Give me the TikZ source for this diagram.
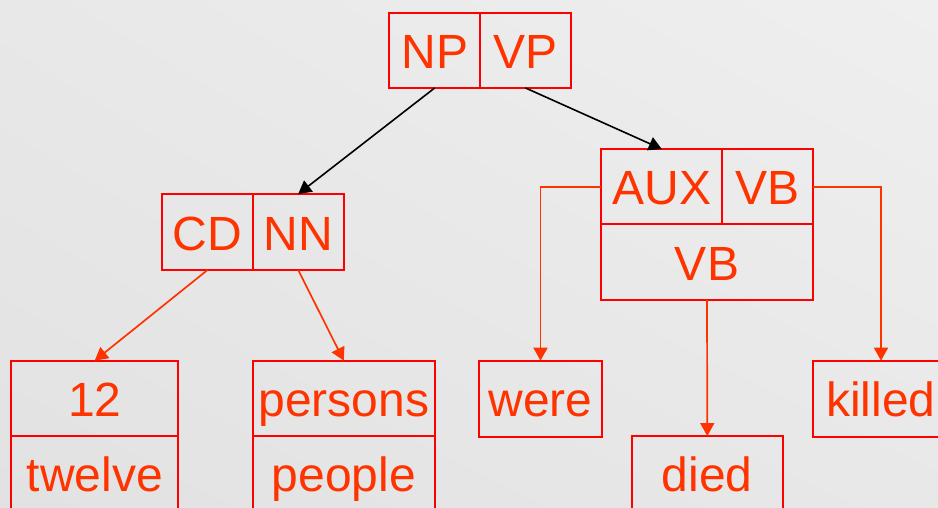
\documentclass[tikz,border=0pt]{standalone}
\usepackage{fontspec}
\setmainfont{Liberation Sans}
\usetikzlibrary{arrows.meta,shadings}
\definecolor{boxred}{HTML}{FF0000}
\definecolor{txtred}{HTML}{FF3300}
\definecolor{bgA}{HTML}{E2E2E2}
\definecolor{bgB}{HTML}{EFEFEF}
\definecolor{bgC}{HTML}{E8E8E8}
\tikzset{
  cell/.style={draw=boxred, line width=2pt, text=txtred, inner sep=0pt,
    font=\fontsize{48}{48}\selectfont, anchor=center, outer sep=0pt,
    text height=36.4pt, text depth=0pt},
  blackarrow/.style={draw=black, line width=1.6pt, -{Triangle[length=13pt,width=14pt]}},
  redarrow/.style={draw=txtred, line width=1.7pt, -{Triangle[length=13pt,width=14pt]}},
}
\begin{document}
\begin{tikzpicture}[x=1pt,y=-1pt]
\useasboundingbox (0,0) rectangle (938,507);
\clip (0,0) rectangle (938,507);
\shade[lower left=bgA, lower right=bgC, upper left=bgC, upper right=bgB] (0,507) rectangle (938,0);
% top
\node[cell, minimum width=90.7pt, minimum height=75.3pt] (np) at (434.7,50.3) {NP};
\node[cell, minimum width=91pt, minimum height=75.3pt] (vp) at (525.5,50.3) {VP};
% left middle
\node[cell, minimum width=90.4pt, minimum height=76pt] (cd) at (207.5,232) {CD};
\node[cell, minimum width=91pt, minimum height=76pt] (nn) at (298.2,232) {NN};
% right middle
\node[cell, minimum width=121pt, minimum height=75.3pt] (aux) at (661.8,186.7) {AUX};
\node[cell, minimum width=90.4pt, minimum height=75.3pt] (vbt) at (767.5,186.7) {VB};
\node[cell, minimum width=211.4pt, minimum height=75.4pt] (vb) at (707,262) {VB};
% bottom
\node[cell, minimum width=166.7pt, minimum height=75.3pt] (n12) at (94.7,398.3) {12};
\node[cell, minimum width=166.7pt, minimum height=75.3pt] (twelve) at (94.7,473.7) {twelve};
\node[cell, minimum width=182.3pt, minimum height=75.3pt] (persons) at (343.8,398.3) {persons};
\node[cell, minimum width=182.3pt, minimum height=75.3pt] (people) at (343.8,473.7) {people};
\node[cell, minimum width=122.4pt, minimum height=76pt] (were) at (540.5,398.7) {were};
\node[cell, minimum width=151.3pt, minimum height=75.3pt] (died) at (707.3,473.7) {died};
\node[cell, minimum width=136.6pt, minimum height=76pt] (killed) at (881,398.7) {killed};
% connectors
\draw[blackarrow] (np.south) -- (nn.north);
\draw[blackarrow] (vp.south) -- (aux.north);
\draw[redarrow] (cd.south) -- (n12.north);
\draw[redarrow] (nn.south) -- (persons.north);
\draw[redarrow] (aux.west) -| (were.north);
\draw[redarrow] (vb.south) -- (died.north);
\draw[redarrow] (vbt.east) -| (killed.north);
\end{tikzpicture}
\end{document}
